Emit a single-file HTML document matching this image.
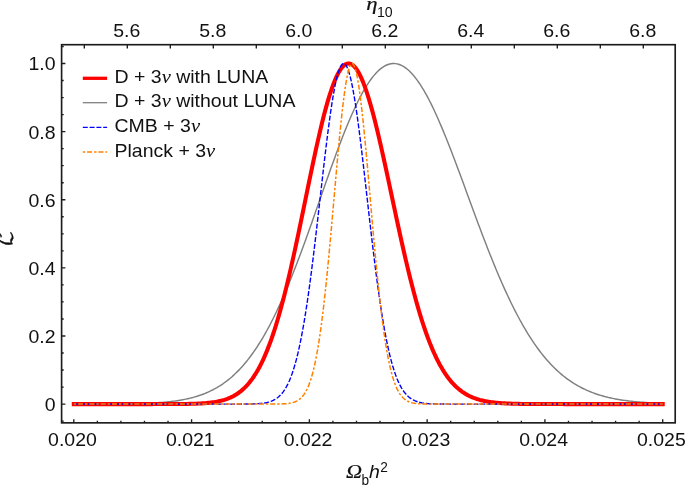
<!DOCTYPE html>
<html><head><meta charset="utf-8"><title>Likelihood</title>
<style>
html,body{margin:0;padding:0;background:#fff;}
body{width:685px;height:485px;overflow:hidden;}
svg{display:block;}
text{font-family:"Liberation Sans",sans-serif;fill:#111;}
.it{font-family:"Liberation Serif",serif;font-style:italic;}
.nu{font-family:"Liberation Serif",serif;font-style:italic;font-size:19.4px;}
</style></head><body>
<svg width="685" height="485" viewBox="0 0 685 485">
<rect width="685" height="485" fill="#fff"/>

<g fill="none" stroke-linejoin="round">
<path d="M73.80,404.09 L75.28,404.09 L76.75,404.09 L78.23,404.09 L79.70,404.08 L81.18,404.08 L82.66,404.08 L84.13,404.08 L85.61,404.08 L87.08,404.07 L88.56,404.07 L90.04,404.07 L91.51,404.07 L92.99,404.06 L94.46,404.06 L95.94,404.06 L97.42,404.05 L98.89,404.05 L100.37,404.04 L101.84,404.04 L103.32,404.03 L104.79,404.02 L106.27,404.02 L107.75,404.01 L109.22,404.00 L110.70,403.99 L112.17,403.98 L113.65,403.97 L115.13,403.96 L116.60,403.94 L118.08,403.93 L119.55,403.92 L121.03,403.90 L122.51,403.88 L123.98,403.86 L125.46,403.84 L126.93,403.82 L128.41,403.80 L129.89,403.77 L131.36,403.74 L132.84,403.71 L134.31,403.68 L135.79,403.65 L137.27,403.61 L138.74,403.57 L140.22,403.53 L141.69,403.48 L143.17,403.43 L144.65,403.38 L146.12,403.32 L147.60,403.26 L149.07,403.19 L150.55,403.12 L152.02,403.05 L153.50,402.97 L154.98,402.89 L156.45,402.79 L157.93,402.70 L159.40,402.59 L160.88,402.48 L162.36,402.37 L163.83,402.24 L165.31,402.11 L166.78,401.96 L168.26,401.81 L169.74,401.65 L171.21,401.48 L172.69,401.30 L174.16,401.11 L175.64,400.91 L177.12,400.69 L178.59,400.46 L180.07,400.22 L181.54,399.97 L183.02,399.70 L184.50,399.41 L185.97,399.11 L187.45,398.79 L188.92,398.45 L190.40,398.10 L191.88,397.73 L193.35,397.33 L194.83,396.92 L196.30,396.48 L197.78,396.02 L199.25,395.54 L200.73,395.04 L202.21,394.50 L203.68,393.95 L205.16,393.36 L206.63,392.75 L208.11,392.10 L209.59,391.43 L211.06,390.72 L212.54,389.99 L214.01,389.21 L215.49,388.41 L216.97,387.57 L218.44,386.69 L219.92,385.77 L221.39,384.81 L222.87,383.82 L224.35,382.78 L225.82,381.70 L227.30,380.58 L228.77,379.41 L230.25,378.19 L231.73,376.93 L233.20,375.62 L234.68,374.26 L236.15,372.85 L237.63,371.39 L239.11,369.88 L240.58,368.31 L242.06,366.69 L243.53,365.01 L245.01,363.28 L246.48,361.49 L247.96,359.64 L249.44,357.73 L250.91,355.76 L252.39,353.73 L253.86,351.64 L255.34,349.49 L256.82,347.28 L258.29,345.00 L259.77,342.67 L261.24,340.26 L262.72,337.80 L264.20,335.27 L265.67,332.67 L267.15,330.01 L268.62,327.29 L270.10,324.50 L271.58,321.65 L273.05,318.73 L274.53,315.75 L276.00,312.71 L277.48,309.60 L278.96,306.43 L280.43,303.21 L281.91,299.92 L283.38,296.57 L284.86,293.16 L286.34,289.70 L287.81,286.18 L289.29,282.60 L290.76,278.97 L292.24,275.29 L293.72,271.56 L295.19,267.78 L296.67,263.96 L298.14,260.09 L299.62,256.18 L301.09,252.23 L302.57,248.24 L304.05,244.22 L305.52,240.16 L307.00,236.07 L308.47,231.96 L309.95,227.82 L311.43,223.66 L312.90,219.49 L314.38,215.29 L315.85,211.09 L317.33,206.87 L318.81,202.65 L320.28,198.43 L321.76,194.21 L323.23,189.99 L324.71,185.79 L326.19,181.59 L327.66,177.41 L329.14,173.25 L330.61,169.11 L332.09,165.00 L333.57,160.92 L335.04,156.88 L336.52,152.87 L337.99,148.91 L339.47,145.00 L340.95,141.13 L342.42,137.32 L343.90,133.56 L345.37,129.87 L346.85,126.24 L348.32,122.69 L349.80,119.20 L351.28,115.80 L352.75,112.47 L354.23,109.23 L355.70,106.07 L357.18,103.00 L358.66,100.03 L360.13,97.16 L361.61,94.38 L363.08,91.71 L364.56,89.15 L366.04,86.69 L367.51,84.35 L368.99,82.12 L370.46,80.01 L371.94,78.01 L373.42,76.14 L374.89,74.39 L376.37,72.77 L377.84,71.27 L379.32,69.90 L380.80,68.66 L382.27,67.55 L383.75,66.57 L385.22,65.73 L386.70,65.02 L388.18,64.45 L389.65,64.01 L391.13,63.70 L392.60,63.54 L394.08,63.50 L395.55,63.61 L397.03,63.85 L398.51,64.22 L399.98,64.73 L401.46,65.37 L402.93,66.14 L404.41,67.05 L405.89,68.08 L407.36,69.24 L408.84,70.53 L410.31,71.95 L411.79,73.49 L413.27,75.15 L414.74,76.93 L416.22,78.83 L417.69,80.84 L419.17,82.96 L420.65,85.20 L422.12,87.54 L423.60,89.99 L425.07,92.54 L426.55,95.18 L428.03,97.92 L429.50,100.76 L430.98,103.68 L432.45,106.69 L433.93,109.79 L435.41,112.96 L436.88,116.21 L438.36,119.53 L439.83,122.92 L441.31,126.37 L442.78,129.89 L444.26,133.46 L445.74,137.09 L447.21,140.77 L448.69,144.50 L450.16,148.27 L451.64,152.09 L453.12,155.93 L454.59,159.82 L456.07,163.73 L457.54,167.66 L459.02,171.62 L460.50,175.60 L461.97,179.60 L463.45,183.60 L464.92,187.62 L466.40,191.64 L467.88,195.67 L469.35,199.69 L470.83,203.71 L472.30,207.72 L473.78,211.73 L475.26,215.72 L476.73,219.70 L478.21,223.66 L479.68,227.59 L481.16,231.51 L482.64,235.40 L484.11,239.26 L485.59,243.10 L487.06,246.90 L488.54,250.67 L490.02,254.40 L491.49,258.09 L492.97,261.75 L494.44,265.36 L495.92,268.93 L497.39,272.46 L498.87,275.94 L500.35,279.37 L501.82,282.76 L503.30,286.09 L504.77,289.37 L506.25,292.61 L507.73,295.79 L509.20,298.91 L510.68,301.99 L512.15,305.01 L513.63,307.97 L515.11,310.88 L516.58,313.73 L518.06,316.53 L519.53,319.26 L521.01,321.95 L522.49,324.57 L523.96,327.14 L525.44,329.65 L526.91,332.11 L528.39,334.51 L529.87,336.85 L531.34,339.13 L532.82,341.36 L534.29,343.54 L535.77,345.66 L537.25,347.72 L538.72,349.73 L540.20,351.69 L541.67,353.59 L543.15,355.45 L544.62,357.25 L546.10,359.00 L547.58,360.69 L549.05,362.34 L550.53,363.94 L552.00,365.49 L553.48,367.00 L554.96,368.46 L556.43,369.87 L557.91,371.24 L559.38,372.56 L560.86,373.84 L562.34,375.08 L563.81,376.28 L565.29,377.43 L566.76,378.55 L568.24,379.63 L569.72,380.67 L571.19,381.67 L572.67,382.64 L574.14,383.58 L575.62,384.48 L577.10,385.34 L578.57,386.18 L580.05,386.98 L581.52,387.75 L583.00,388.49 L584.48,389.21 L585.95,389.89 L587.43,390.55 L588.90,391.18 L590.38,391.79 L591.85,392.37 L593.33,392.93 L594.81,393.47 L596.28,393.98 L597.76,394.47 L599.23,394.94 L600.71,395.39 L602.19,395.82 L603.66,396.23 L605.14,396.63 L606.61,397.00 L608.09,397.36 L609.57,397.71 L611.04,398.04 L612.52,398.35 L613.99,398.65 L615.47,398.93 L616.95,399.20 L618.42,399.46 L619.90,399.71 L621.37,399.94 L622.85,400.17 L624.33,400.38 L625.80,400.58 L627.28,400.77 L628.75,400.96 L630.23,401.13 L631.71,401.30 L633.18,401.45 L634.66,401.60 L636.13,401.74 L637.61,401.88 L639.08,402.00 L640.56,402.12 L642.04,402.24 L643.51,402.34 L644.99,402.45 L646.46,402.54 L647.94,402.64 L649.42,402.72 L650.89,402.80 L652.37,402.88 L653.84,402.95 L655.32,403.02 L656.80,403.09 L658.27,403.15 L659.75,403.21 L661.22,403.26 L662.70,403.31" stroke="#808080" stroke-width="1.45"/>
<path d="M73.80,404.10 L75.28,404.10 L76.75,404.10 L78.23,404.10 L79.70,404.10 L81.18,404.10 L82.66,404.10 L84.13,404.10 L85.61,404.10 L87.08,404.10 L88.56,404.10 L90.04,404.10 L91.51,404.10 L92.99,404.10 L94.46,404.10 L95.94,404.10 L97.42,404.10 L98.89,404.10 L100.37,404.10 L101.84,404.10 L103.32,404.10 L104.79,404.10 L106.27,404.10 L107.75,404.10 L109.22,404.10 L110.70,404.10 L112.17,404.10 L113.65,404.10 L115.13,404.10 L116.60,404.10 L118.08,404.10 L119.55,404.10 L121.03,404.10 L122.51,404.10 L123.98,404.10 L125.46,404.10 L126.93,404.10 L128.41,404.10 L129.89,404.10 L131.36,404.10 L132.84,404.10 L134.31,404.10 L135.79,404.10 L137.27,404.10 L138.74,404.10 L140.22,404.10 L141.69,404.10 L143.17,404.10 L144.65,404.10 L146.12,404.10 L147.60,404.10 L149.07,404.10 L150.55,404.10 L152.02,404.10 L153.50,404.09 L154.98,404.09 L156.45,404.09 L157.93,404.09 L159.40,404.09 L160.88,404.09 L162.36,404.09 L163.83,404.08 L165.31,404.08 L166.78,404.08 L168.26,404.07 L169.74,404.07 L171.21,404.06 L172.69,404.06 L174.16,404.05 L175.64,404.04 L177.12,404.03 L178.59,404.02 L180.07,404.01 L181.54,403.99 L183.02,403.98 L184.50,403.96 L185.97,403.93 L187.45,403.91 L188.92,403.88 L190.40,403.85 L191.88,403.81 L193.35,403.77 L194.83,403.72 L196.30,403.66 L197.78,403.60 L199.25,403.53 L200.73,403.45 L202.21,403.36 L203.68,403.26 L205.16,403.15 L206.63,403.02 L208.11,402.88 L209.59,402.73 L211.06,402.55 L212.54,402.36 L214.01,402.14 L215.49,401.90 L216.97,401.63 L218.44,401.34 L219.92,401.01 L221.39,400.65 L222.87,400.26 L224.35,399.82 L225.82,399.34 L227.30,398.82 L228.77,398.24 L230.25,397.61 L231.73,396.93 L233.20,396.18 L234.68,395.36 L236.15,394.48 L237.63,393.51 L239.11,392.47 L240.58,391.35 L242.06,390.13 L243.53,388.82 L245.01,387.40 L246.48,385.88 L247.96,384.25 L249.44,382.50 L250.91,380.62 L252.39,378.62 L253.86,376.48 L255.34,374.21 L256.82,371.78 L258.29,369.21 L259.77,366.48 L261.24,363.60 L262.72,360.54 L264.20,357.32 L265.67,353.93 L267.15,350.36 L268.62,346.61 L270.10,342.68 L271.58,338.56 L273.05,334.26 L274.53,329.77 L276.00,325.10 L277.48,320.24 L278.96,315.19 L280.43,309.96 L281.91,304.56 L283.38,298.97 L284.86,293.21 L286.34,287.29 L287.81,281.20 L289.29,274.96 L290.76,268.58 L292.24,262.06 L293.72,255.41 L295.19,248.65 L296.67,241.78 L298.14,234.82 L299.62,227.78 L301.09,220.68 L302.57,213.53 L304.05,206.35 L305.52,199.15 L307.00,191.95 L308.47,184.77 L309.95,177.63 L311.43,170.54 L312.90,163.52 L314.38,156.60 L315.85,149.79 L317.33,143.11 L318.81,136.58 L320.28,130.23 L321.76,124.06 L323.23,118.10 L324.71,112.36 L326.19,106.87 L327.66,101.65 L329.14,96.70 L330.61,92.04 L332.09,87.69 L333.57,83.67 L335.04,79.98 L336.52,76.64 L337.99,73.66 L339.47,71.05 L340.95,68.82 L342.42,66.97 L343.90,65.51 L345.37,64.44 L346.85,63.77 L348.32,63.51 L349.80,63.64 L351.28,64.16 L352.75,65.09 L354.23,66.40 L355.70,68.11 L357.18,70.19 L358.66,72.64 L360.13,75.46 L361.61,78.62 L363.08,82.13 L364.56,85.97 L366.04,90.12 L367.51,94.58 L368.99,99.32 L370.46,104.33 L371.94,109.59 L373.42,115.09 L374.89,120.81 L376.37,126.73 L377.84,132.84 L379.32,139.11 L380.80,145.52 L382.27,152.07 L383.75,158.73 L385.22,165.47 L386.70,172.30 L388.18,179.17 L389.65,186.09 L391.13,193.03 L392.60,199.98 L394.08,206.91 L395.55,213.83 L397.03,220.70 L398.51,227.52 L399.98,234.27 L401.46,240.94 L402.93,247.53 L404.41,254.01 L405.89,260.38 L407.36,266.63 L408.84,272.75 L410.31,278.74 L411.79,284.58 L413.27,290.27 L414.74,295.81 L416.22,301.19 L417.69,306.41 L419.17,311.47 L420.65,316.35 L422.12,321.07 L423.60,325.62 L425.07,330.00 L426.55,334.21 L428.03,338.25 L429.50,342.12 L430.98,345.82 L432.45,349.37 L433.93,352.75 L435.41,355.97 L436.88,359.04 L438.36,361.95 L439.83,364.72 L441.31,367.35 L442.78,369.84 L444.26,372.19 L445.74,374.41 L447.21,376.50 L448.69,378.48 L450.16,380.33 L451.64,382.08 L453.12,383.72 L454.59,385.25 L456.07,386.69 L457.54,388.04 L459.02,389.29 L460.50,390.46 L461.97,391.56 L463.45,392.57 L464.92,393.52 L466.40,394.39 L467.88,395.21 L469.35,395.96 L470.83,396.66 L472.30,397.30 L473.78,397.90 L475.26,398.44 L476.73,398.95 L478.21,399.41 L479.68,399.84 L481.16,400.23 L482.64,400.59 L484.11,400.92 L485.59,401.22 L487.06,401.50 L488.54,401.75 L490.02,401.98 L491.49,402.19 L492.97,402.38 L494.44,402.55 L495.92,402.70 L497.39,402.85 L498.87,402.98 L500.35,403.09 L501.82,403.20 L503.30,403.29 L504.77,403.38 L506.25,403.46 L507.73,403.52 L509.20,403.59 L510.68,403.64 L512.15,403.69 L513.63,403.74 L515.11,403.78 L516.58,403.82 L518.06,403.85 L519.53,403.88 L521.01,403.90 L522.49,403.93 L523.96,403.95 L525.44,403.96 L526.91,403.98 L528.39,403.99 L529.87,404.01 L531.34,404.02 L532.82,404.03 L534.29,404.04 L535.77,404.05 L537.25,404.05 L538.72,404.06 L540.20,404.06 L541.67,404.07 L543.15,404.07 L544.62,404.08 L546.10,404.08 L547.58,404.08 L549.05,404.08 L550.53,404.09 L552.00,404.09 L553.48,404.09 L554.96,404.09 L556.43,404.09 L557.91,404.09 L559.38,404.09 L560.86,404.09 L562.34,404.10 L563.81,404.10 L565.29,404.10 L566.76,404.10 L568.24,404.10 L569.72,404.10 L571.19,404.10 L572.67,404.10 L574.14,404.10 L575.62,404.10 L577.10,404.10 L578.57,404.10 L580.05,404.10 L581.52,404.10 L583.00,404.10 L584.48,404.10 L585.95,404.10 L587.43,404.10 L588.90,404.10 L590.38,404.10 L591.85,404.10 L593.33,404.10 L594.81,404.10 L596.28,404.10 L597.76,404.10 L599.23,404.10 L600.71,404.10 L602.19,404.10 L603.66,404.10 L605.14,404.10 L606.61,404.10 L608.09,404.10 L609.57,404.10 L611.04,404.10 L612.52,404.10 L613.99,404.10 L615.47,404.10 L616.95,404.10 L618.42,404.10 L619.90,404.10 L621.37,404.10 L622.85,404.10 L624.33,404.10 L625.80,404.10 L627.28,404.10 L628.75,404.10 L630.23,404.10 L631.71,404.10 L633.18,404.10 L634.66,404.10 L636.13,404.10 L637.61,404.10 L639.08,404.10 L640.56,404.10 L642.04,404.10 L643.51,404.10 L644.99,404.10 L646.46,404.10 L647.94,404.10 L649.42,404.10 L650.89,404.10 L652.37,404.10 L653.84,404.10 L655.32,404.10 L656.80,404.10 L658.27,404.10 L659.75,404.10 L661.22,404.10 L662.70,404.10" stroke="#ff0000" stroke-width="4.05" stroke-linecap="square"/>
<path d="M73.80,404.10 L75.28,404.10 L76.75,404.10 L78.23,404.10 L79.70,404.10 L81.18,404.10 L82.66,404.10 L84.13,404.10 L85.61,404.10 L87.08,404.10 L88.56,404.10 L90.04,404.10 L91.51,404.10 L92.99,404.10 L94.46,404.10 L95.94,404.10 L97.42,404.10 L98.89,404.10 L100.37,404.10 L101.84,404.10 L103.32,404.10 L104.79,404.10 L106.27,404.10 L107.75,404.10 L109.22,404.10 L110.70,404.10 L112.17,404.10 L113.65,404.10 L115.13,404.10 L116.60,404.10 L118.08,404.10 L119.55,404.10 L121.03,404.10 L122.51,404.10 L123.98,404.10 L125.46,404.10 L126.93,404.10 L128.41,404.10 L129.89,404.10 L131.36,404.10 L132.84,404.10 L134.31,404.10 L135.79,404.10 L137.27,404.10 L138.74,404.10 L140.22,404.10 L141.69,404.10 L143.17,404.10 L144.65,404.10 L146.12,404.10 L147.60,404.10 L149.07,404.10 L150.55,404.10 L152.02,404.10 L153.50,404.10 L154.98,404.10 L156.45,404.10 L157.93,404.10 L159.40,404.10 L160.88,404.10 L162.36,404.10 L163.83,404.10 L165.31,404.10 L166.78,404.10 L168.26,404.10 L169.74,404.10 L171.21,404.10 L172.69,404.10 L174.16,404.10 L175.64,404.10 L177.12,404.10 L178.59,404.10 L180.07,404.10 L181.54,404.10 L183.02,404.10 L184.50,404.10 L185.97,404.10 L187.45,404.10 L188.92,404.10 L190.40,404.10 L191.88,404.10 L193.35,404.10 L194.83,404.10 L196.30,404.10 L197.78,404.10 L199.25,404.10 L200.73,404.10 L202.21,404.10 L203.68,404.10 L205.16,404.10 L206.63,404.10 L208.11,404.10 L209.59,404.10 L211.06,404.10 L212.54,404.10 L214.01,404.10 L215.49,404.10 L216.97,404.10 L218.44,404.10 L219.92,404.10 L221.39,404.10 L222.87,404.10 L224.35,404.10 L225.82,404.10 L227.30,404.10 L228.77,404.10 L230.25,404.10 L231.73,404.10 L233.20,404.09 L234.68,404.09 L236.15,404.09 L237.63,404.09 L239.11,404.08 L240.58,404.08 L242.06,404.07 L243.53,404.06 L245.01,404.05 L246.48,404.04 L247.96,404.02 L249.44,403.99 L250.91,403.96 L252.39,403.93 L253.86,403.88 L255.34,403.82 L256.82,403.74 L258.29,403.65 L259.77,403.53 L261.24,403.39 L262.72,403.22 L264.20,403.01 L265.67,402.75 L267.15,402.44 L268.62,402.07 L270.10,401.62 L271.58,401.08 L273.05,400.44 L274.53,399.69 L276.00,398.80 L277.48,397.76 L278.96,396.54 L280.43,395.12 L281.91,393.48 L283.38,391.59 L284.86,389.42 L286.34,386.94 L287.81,384.13 L289.29,380.94 L290.76,377.35 L292.24,373.33 L293.72,368.84 L295.19,363.86 L296.67,358.36 L298.14,352.31 L299.62,345.69 L301.09,338.49 L302.57,330.70 L304.05,322.30 L305.52,313.30 L307.00,303.70 L308.47,293.54 L309.95,282.83 L311.43,271.60 L312.90,259.91 L314.38,247.81 L315.85,235.37 L317.33,222.65 L318.81,209.75 L320.28,196.76 L321.76,183.77 L323.23,170.89 L324.71,158.24 L326.19,145.93 L327.66,134.08 L329.14,122.79 L330.61,112.20 L332.09,102.41 L333.57,93.52 L335.04,85.64 L336.52,78.84 L337.99,73.22 L339.47,68.83 L340.95,65.73 L342.42,63.96 L343.90,63.52 L345.37,64.44 L346.85,66.69 L348.32,70.25 L349.80,75.09 L351.28,81.13 L352.75,88.33 L354.23,96.58 L355.70,105.80 L357.18,115.89 L358.66,126.74 L360.13,138.24 L361.61,150.27 L363.08,162.72 L364.56,175.46 L366.04,188.39 L367.51,201.39 L368.99,214.36 L370.46,227.21 L371.94,239.84 L373.42,252.17 L374.89,264.13 L376.37,275.66 L377.84,286.71 L379.32,297.23 L380.80,307.19 L382.27,316.57 L383.75,325.36 L385.22,333.54 L386.70,341.13 L388.18,348.12 L389.65,354.53 L391.13,360.38 L392.60,365.70 L394.08,370.50 L395.55,374.81 L397.03,378.68 L398.51,382.12 L399.98,385.17 L401.46,387.86 L402.93,390.23 L404.41,392.29 L405.89,394.09 L407.36,395.65 L408.84,396.99 L410.31,398.15 L411.79,399.13 L413.27,399.97 L414.74,400.68 L416.22,401.28 L417.69,401.79 L419.17,402.21 L420.65,402.56 L422.12,402.85 L423.60,403.09 L425.07,403.29 L426.55,403.45 L428.03,403.58 L429.50,403.69 L430.98,403.77 L432.45,403.84 L433.93,403.90 L435.41,403.94 L436.88,403.98 L438.36,404.00 L439.83,404.03 L441.31,404.04 L442.78,404.06 L444.26,404.07 L445.74,404.07 L447.21,404.08 L448.69,404.09 L450.16,404.09 L451.64,404.09 L453.12,404.09 L454.59,404.10 L456.07,404.10 L457.54,404.10 L459.02,404.10 L460.50,404.10 L461.97,404.10 L463.45,404.10 L464.92,404.10 L466.40,404.10 L467.88,404.10 L469.35,404.10 L470.83,404.10 L472.30,404.10 L473.78,404.10 L475.26,404.10 L476.73,404.10 L478.21,404.10 L479.68,404.10 L481.16,404.10 L482.64,404.10 L484.11,404.10 L485.59,404.10 L487.06,404.10 L488.54,404.10 L490.02,404.10 L491.49,404.10 L492.97,404.10 L494.44,404.10 L495.92,404.10 L497.39,404.10 L498.87,404.10 L500.35,404.10 L501.82,404.10 L503.30,404.10 L504.77,404.10 L506.25,404.10 L507.73,404.10 L509.20,404.10 L510.68,404.10 L512.15,404.10 L513.63,404.10 L515.11,404.10 L516.58,404.10 L518.06,404.10 L519.53,404.10 L521.01,404.10 L522.49,404.10 L523.96,404.10 L525.44,404.10 L526.91,404.10 L528.39,404.10 L529.87,404.10 L531.34,404.10 L532.82,404.10 L534.29,404.10 L535.77,404.10 L537.25,404.10 L538.72,404.10 L540.20,404.10 L541.67,404.10 L543.15,404.10 L544.62,404.10 L546.10,404.10 L547.58,404.10 L549.05,404.10 L550.53,404.10 L552.00,404.10 L553.48,404.10 L554.96,404.10 L556.43,404.10 L557.91,404.10 L559.38,404.10 L560.86,404.10 L562.34,404.10 L563.81,404.10 L565.29,404.10 L566.76,404.10 L568.24,404.10 L569.72,404.10 L571.19,404.10 L572.67,404.10 L574.14,404.10 L575.62,404.10 L577.10,404.10 L578.57,404.10 L580.05,404.10 L581.52,404.10 L583.00,404.10 L584.48,404.10 L585.95,404.10 L587.43,404.10 L588.90,404.10 L590.38,404.10 L591.85,404.10 L593.33,404.10 L594.81,404.10 L596.28,404.10 L597.76,404.10 L599.23,404.10 L600.71,404.10 L602.19,404.10 L603.66,404.10 L605.14,404.10 L606.61,404.10 L608.09,404.10 L609.57,404.10 L611.04,404.10 L612.52,404.10 L613.99,404.10 L615.47,404.10 L616.95,404.10 L618.42,404.10 L619.90,404.10 L621.37,404.10 L622.85,404.10 L624.33,404.10 L625.80,404.10 L627.28,404.10 L628.75,404.10 L630.23,404.10 L631.71,404.10 L633.18,404.10 L634.66,404.10 L636.13,404.10 L637.61,404.10 L639.08,404.10 L640.56,404.10 L642.04,404.10 L643.51,404.10 L644.99,404.10 L646.46,404.10 L647.94,404.10 L649.42,404.10 L650.89,404.10 L652.37,404.10 L653.84,404.10 L655.32,404.10 L656.80,404.10 L658.27,404.10 L659.75,404.10 L661.22,404.10 L662.70,404.10" stroke="#0000ff" stroke-width="1.4" stroke-dasharray="5 1.8"/>
<path d="M73.80,404.10 L75.28,404.10 L76.75,404.10 L78.23,404.10 L79.70,404.10 L81.18,404.10 L82.66,404.10 L84.13,404.10 L85.61,404.10 L87.08,404.10 L88.56,404.10 L90.04,404.10 L91.51,404.10 L92.99,404.10 L94.46,404.10 L95.94,404.10 L97.42,404.10 L98.89,404.10 L100.37,404.10 L101.84,404.10 L103.32,404.10 L104.79,404.10 L106.27,404.10 L107.75,404.10 L109.22,404.10 L110.70,404.10 L112.17,404.10 L113.65,404.10 L115.13,404.10 L116.60,404.10 L118.08,404.10 L119.55,404.10 L121.03,404.10 L122.51,404.10 L123.98,404.10 L125.46,404.10 L126.93,404.10 L128.41,404.10 L129.89,404.10 L131.36,404.10 L132.84,404.10 L134.31,404.10 L135.79,404.10 L137.27,404.10 L138.74,404.10 L140.22,404.10 L141.69,404.10 L143.17,404.10 L144.65,404.10 L146.12,404.10 L147.60,404.10 L149.07,404.10 L150.55,404.10 L152.02,404.10 L153.50,404.10 L154.98,404.10 L156.45,404.10 L157.93,404.10 L159.40,404.10 L160.88,404.10 L162.36,404.10 L163.83,404.10 L165.31,404.10 L166.78,404.10 L168.26,404.10 L169.74,404.10 L171.21,404.10 L172.69,404.10 L174.16,404.10 L175.64,404.10 L177.12,404.10 L178.59,404.10 L180.07,404.10 L181.54,404.10 L183.02,404.10 L184.50,404.10 L185.97,404.10 L187.45,404.10 L188.92,404.10 L190.40,404.10 L191.88,404.10 L193.35,404.10 L194.83,404.10 L196.30,404.10 L197.78,404.10 L199.25,404.10 L200.73,404.10 L202.21,404.10 L203.68,404.10 L205.16,404.10 L206.63,404.10 L208.11,404.10 L209.59,404.10 L211.06,404.10 L212.54,404.10 L214.01,404.10 L215.49,404.10 L216.97,404.10 L218.44,404.10 L219.92,404.10 L221.39,404.10 L222.87,404.10 L224.35,404.10 L225.82,404.10 L227.30,404.10 L228.77,404.10 L230.25,404.10 L231.73,404.10 L233.20,404.10 L234.68,404.10 L236.15,404.10 L237.63,404.10 L239.11,404.10 L240.58,404.10 L242.06,404.10 L243.53,404.10 L245.01,404.10 L246.48,404.10 L247.96,404.10 L249.44,404.10 L250.91,404.10 L252.39,404.10 L253.86,404.10 L255.34,404.10 L256.82,404.10 L258.29,404.10 L259.77,404.10 L261.24,404.10 L262.72,404.10 L264.20,404.10 L265.67,404.10 L267.15,404.09 L268.62,404.09 L270.10,404.09 L271.58,404.08 L273.05,404.08 L274.53,404.07 L276.00,404.05 L277.48,404.04 L278.96,404.01 L280.43,403.98 L281.91,403.93 L283.38,403.86 L284.86,403.78 L286.34,403.66 L287.81,403.51 L289.29,403.32 L290.76,403.06 L292.24,402.74 L293.72,402.31 L295.19,401.78 L296.67,401.10 L298.14,400.26 L299.62,399.21 L301.09,397.91 L302.57,396.32 L304.05,394.39 L305.52,392.06 L307.00,389.27 L308.47,385.95 L309.95,382.05 L311.43,377.48 L312.90,372.18 L314.38,366.08 L315.85,359.12 L317.33,351.23 L318.81,342.39 L320.28,332.54 L321.76,321.68 L323.23,309.80 L324.71,296.93 L326.19,283.13 L327.66,268.45 L329.14,253.01 L330.61,236.94 L332.09,220.40 L333.57,203.57 L335.04,186.66 L336.52,169.91 L337.99,153.54 L339.47,137.83 L340.95,123.02 L342.42,109.38 L343.90,97.13 L345.37,86.52 L346.85,77.73 L348.32,70.95 L349.80,66.30 L351.28,63.87 L352.75,63.71 L354.23,65.84 L355.70,70.19 L357.18,76.70 L358.66,85.22 L360.13,95.60 L361.61,107.64 L363.08,121.11 L364.56,135.77 L366.04,151.38 L367.51,167.67 L368.99,184.39 L370.46,201.29 L371.94,218.14 L373.42,234.74 L374.89,250.88 L376.37,266.41 L377.84,281.20 L379.32,295.13 L380.80,308.12 L382.27,320.14 L383.75,331.14 L385.22,341.12 L386.70,350.10 L388.18,358.11 L389.65,365.19 L391.13,371.40 L392.60,376.81 L394.08,381.47 L395.55,385.46 L397.03,388.85 L398.51,391.71 L399.98,394.10 L401.46,396.08 L402.93,397.71 L404.41,399.05 L405.89,400.13 L407.36,401.00 L408.84,401.70 L410.31,402.25 L411.79,402.68 L413.27,403.02 L414.74,403.29 L416.22,403.49 L417.69,403.65 L419.17,403.76 L420.65,403.85 L422.12,403.92 L423.60,403.97 L425.07,404.01 L426.55,404.03 L428.03,404.05 L429.50,404.07 L430.98,404.08 L432.45,404.08 L433.93,404.09 L435.41,404.09 L436.88,404.09 L438.36,404.10 L439.83,404.10 L441.31,404.10 L442.78,404.10 L444.26,404.10 L445.74,404.10 L447.21,404.10 L448.69,404.10 L450.16,404.10 L451.64,404.10 L453.12,404.10 L454.59,404.10 L456.07,404.10 L457.54,404.10 L459.02,404.10 L460.50,404.10 L461.97,404.10 L463.45,404.10 L464.92,404.10 L466.40,404.10 L467.88,404.10 L469.35,404.10 L470.83,404.10 L472.30,404.10 L473.78,404.10 L475.26,404.10 L476.73,404.10 L478.21,404.10 L479.68,404.10 L481.16,404.10 L482.64,404.10 L484.11,404.10 L485.59,404.10 L487.06,404.10 L488.54,404.10 L490.02,404.10 L491.49,404.10 L492.97,404.10 L494.44,404.10 L495.92,404.10 L497.39,404.10 L498.87,404.10 L500.35,404.10 L501.82,404.10 L503.30,404.10 L504.77,404.10 L506.25,404.10 L507.73,404.10 L509.20,404.10 L510.68,404.10 L512.15,404.10 L513.63,404.10 L515.11,404.10 L516.58,404.10 L518.06,404.10 L519.53,404.10 L521.01,404.10 L522.49,404.10 L523.96,404.10 L525.44,404.10 L526.91,404.10 L528.39,404.10 L529.87,404.10 L531.34,404.10 L532.82,404.10 L534.29,404.10 L535.77,404.10 L537.25,404.10 L538.72,404.10 L540.20,404.10 L541.67,404.10 L543.15,404.10 L544.62,404.10 L546.10,404.10 L547.58,404.10 L549.05,404.10 L550.53,404.10 L552.00,404.10 L553.48,404.10 L554.96,404.10 L556.43,404.10 L557.91,404.10 L559.38,404.10 L560.86,404.10 L562.34,404.10 L563.81,404.10 L565.29,404.10 L566.76,404.10 L568.24,404.10 L569.72,404.10 L571.19,404.10 L572.67,404.10 L574.14,404.10 L575.62,404.10 L577.10,404.10 L578.57,404.10 L580.05,404.10 L581.52,404.10 L583.00,404.10 L584.48,404.10 L585.95,404.10 L587.43,404.10 L588.90,404.10 L590.38,404.10 L591.85,404.10 L593.33,404.10 L594.81,404.10 L596.28,404.10 L597.76,404.10 L599.23,404.10 L600.71,404.10 L602.19,404.10 L603.66,404.10 L605.14,404.10 L606.61,404.10 L608.09,404.10 L609.57,404.10 L611.04,404.10 L612.52,404.10 L613.99,404.10 L615.47,404.10 L616.95,404.10 L618.42,404.10 L619.90,404.10 L621.37,404.10 L622.85,404.10 L624.33,404.10 L625.80,404.10 L627.28,404.10 L628.75,404.10 L630.23,404.10 L631.71,404.10 L633.18,404.10 L634.66,404.10 L636.13,404.10 L637.61,404.10 L639.08,404.10 L640.56,404.10 L642.04,404.10 L643.51,404.10 L644.99,404.10 L646.46,404.10 L647.94,404.10 L649.42,404.10 L650.89,404.10 L652.37,404.10 L653.84,404.10 L655.32,404.10 L656.80,404.10 L658.27,404.10 L659.75,404.10 L661.22,404.10 L662.70,404.10" stroke="#ff8000" stroke-width="1.5" stroke-dasharray="2.4 1.9 5.1 1.9"/>
</g>
<path d="M73.80,422.85 v-3.70 M97.36,422.85 v-2.00 M120.91,422.85 v-2.00 M144.47,422.85 v-2.00 M168.02,422.85 v-2.00 M191.58,422.85 v-3.70 M215.14,422.85 v-2.00 M238.69,422.85 v-2.00 M262.25,422.85 v-2.00 M285.80,422.85 v-2.00 M309.36,422.85 v-3.70 M332.92,422.85 v-2.00 M356.47,422.85 v-2.00 M380.03,422.85 v-2.00 M403.58,422.85 v-2.00 M427.14,422.85 v-3.70 M450.70,422.85 v-2.00 M474.25,422.85 v-2.00 M497.81,422.85 v-2.00 M521.36,422.85 v-2.00 M544.92,422.85 v-3.70 M568.48,422.85 v-2.00 M592.03,422.85 v-2.00 M615.59,422.85 v-2.00 M639.14,422.85 v-2.00 M662.70,422.85 v-3.70 M84.30,44.70 v3.80 M127.30,44.70 v3.80 M170.30,44.70 v3.80 M213.30,44.70 v3.80 M256.30,44.70 v3.80 M299.30,44.70 v3.80 M342.30,44.70 v3.80 M385.30,44.70 v3.80 M428.30,44.70 v3.80 M471.30,44.70 v3.80 M514.30,44.70 v3.80 M557.30,44.70 v3.80 M600.30,44.70 v3.80 M643.30,44.70 v3.80 M61.60,421.13 h2.10 M61.60,404.10 h3.80 M61.60,387.07 h2.10 M61.60,370.04 h2.10 M61.60,353.01 h2.10 M61.60,335.98 h3.80 M61.60,318.95 h2.10 M61.60,301.92 h2.10 M61.60,284.89 h2.10 M61.60,267.86 h3.80 M61.60,250.83 h2.10 M61.60,233.80 h2.10 M61.60,216.77 h2.10 M61.60,199.74 h3.80 M61.60,182.71 h2.10 M61.60,165.68 h2.10 M61.60,148.65 h2.10 M61.60,131.62 h3.80 M61.60,114.59 h2.10 M61.60,97.56 h2.10 M61.60,80.53 h2.10 M61.60,63.50 h3.80 M61.60,46.47 h2.10" stroke="#1c1c1c" stroke-width="1.35" fill="none"/>
<rect x="61.60" y="44.70" width="613.60" height="378.15" fill="none" stroke="#1c1c1c" stroke-width="1.65"/>
<text transform="translate(126.70,36.80) scale(1.060,1)" font-size="18.40" text-anchor="middle">5.6</text>
<text transform="translate(212.70,36.80) scale(1.060,1)" font-size="18.40" text-anchor="middle">5.8</text>
<text transform="translate(298.70,36.80) scale(1.060,1)" font-size="18.40" text-anchor="middle">6.0</text>
<text transform="translate(384.70,36.80) scale(1.060,1)" font-size="18.40" text-anchor="middle">6.2</text>
<text transform="translate(470.70,36.80) scale(1.060,1)" font-size="18.40" text-anchor="middle">6.4</text>
<text transform="translate(556.70,36.80) scale(1.060,1)" font-size="18.40" text-anchor="middle">6.6</text>
<text transform="translate(642.70,36.80) scale(1.060,1)" font-size="18.40" text-anchor="middle">6.8</text>
<text transform="translate(72.50,445.90) scale(1.060,1)" font-size="18.40" text-anchor="middle">0.020</text>
<text transform="translate(190.28,445.90) scale(1.060,1)" font-size="18.40" text-anchor="middle">0.021</text>
<text transform="translate(308.06,445.90) scale(1.060,1)" font-size="18.40" text-anchor="middle">0.022</text>
<text transform="translate(425.84,445.90) scale(1.060,1)" font-size="18.40" text-anchor="middle">0.023</text>
<text transform="translate(543.62,445.90) scale(1.060,1)" font-size="18.40" text-anchor="middle">0.024</text>
<text transform="translate(661.40,445.90) scale(1.060,1)" font-size="18.40" text-anchor="middle">0.025</text>
<text transform="translate(55.60,411.00) scale(1.060,1)" font-size="18.40" text-anchor="end">0</text>
<text transform="translate(55.60,342.88) scale(1.060,1)" font-size="18.40" text-anchor="end">0.2</text>
<text transform="translate(55.60,274.76) scale(1.060,1)" font-size="18.40" text-anchor="end">0.4</text>
<text transform="translate(55.60,206.64) scale(1.060,1)" font-size="18.40" text-anchor="end">0.6</text>
<text transform="translate(55.60,138.52) scale(1.060,1)" font-size="18.40" text-anchor="end">0.8</text>
<text transform="translate(55.60,70.40) scale(1.060,1)" font-size="18.40" text-anchor="end">1.0</text>
<g fill="none">
<path d="M82.8,78.3 H107.1" stroke="#ff0000" stroke-width="3.3"/>
<path d="M82.8,102.7 H107.1" stroke="#808080" stroke-width="1.3"/>
<path d="M82.8,127.4 H107.1" stroke="#0000ff" stroke-width="1.4" stroke-dasharray="5 1.8"/>
<path d="M82.8,151.9 H107.1" stroke="#ff8000" stroke-width="1.5" stroke-dasharray="2.4 1.9 5.1 1.9"/>
</g>
<text transform="translate(114.50,82.80) scale(1.060,1)" font-size="18.40" text-anchor="start">D + 3<tspan class="nu">ν</tspan> with LUNA</text>
<text transform="translate(114.50,107.40) scale(1.060,1)" font-size="18.40" text-anchor="start">D + 3<tspan class="nu">ν</tspan> without LUNA</text>
<text transform="translate(114.50,132.10) scale(1.060,1)" font-size="18.40" text-anchor="start">CMB + 3<tspan class="nu">ν</tspan></text>
<text transform="translate(114.50,156.60) scale(1.060,1)" font-size="18.40" text-anchor="start">Planck + 3<tspan class="nu">ν</tspan></text>
<text transform="translate(366.3,10.1) scale(1.25,1)" font-size="18.2" class="it" stroke="#111" stroke-width="0.2">η</text>
<text transform="translate(376.90,16.60) scale(1.000,1)" font-size="14.10" text-anchor="start">10</text>
<text transform="translate(345.9,477.6) scale(1.17,1)" font-size="19" class="it" stroke="#111" stroke-width="0.15">Ω</text>
<text transform="translate(361.50,484.70) scale(0.970,1)" font-size="14.10" text-anchor="start">b</text>
<text transform="translate(369.0,477.6) scale(1.06,1)" font-size="18.4" font-style="italic">h</text>
<text transform="translate(380.30,471.90) scale(0.970,1)" font-size="14.10" text-anchor="start">2</text>
<text transform="translate(12.4,238.4) rotate(-90)" font-size="21" text-anchor="middle" stroke="#111" stroke-width="0.35" style="font-family:'DejaVu Math TeX Gyre','DejaVu Sans',serif">ℒ</text>
</svg></body></html>
